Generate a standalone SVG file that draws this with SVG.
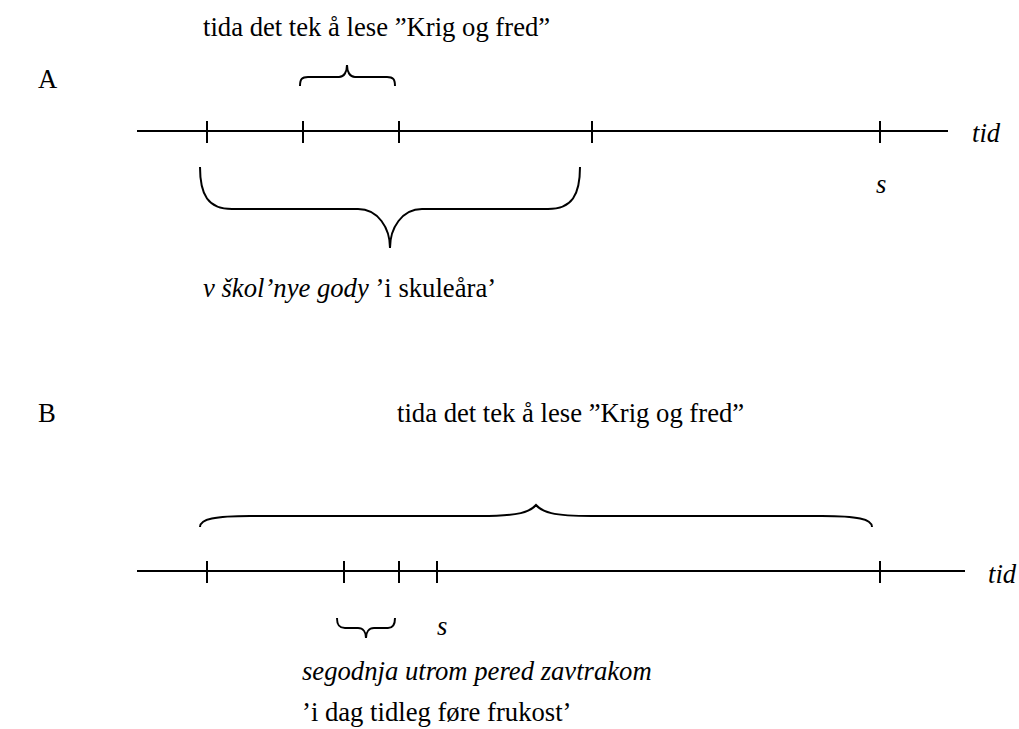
<svg xmlns="http://www.w3.org/2000/svg" width="1019" height="729" viewBox="0 0 1019 729">
<style>
.t{font-family:"Liberation Serif","Times New Roman",serif;font-size:26.67px;fill:#000}
.i{font-style:italic}
.ln{stroke:#000;stroke-width:2;fill:none}
.br{stroke:#000;stroke-width:2;fill:none}
</style>
<rect width="1019" height="729" fill="#fff"/>
<g id="panelA">
<text class="t" x="38" y="88">A</text>
<text class="t" x="203" y="36">tida det tek å lese ”Krig og fred”</text>
<g id="axisA">
<line class="ln" x1="137" y1="131" x2="948" y2="131"/>
<line class="ln" x1="207" y1="121" x2="207" y2="143"/>
<line class="ln" x1="303" y1="121" x2="303" y2="143"/>
<line class="ln" x1="399" y1="121" x2="399" y2="143"/>
<line class="ln" x1="592" y1="121" x2="592" y2="143"/>
<line class="ln" x1="880" y1="121" x2="880" y2="143"/>
</g>
<text class="t i" x="972" y="142">tid</text>
<text class="t i" x="876" y="193">s</text>
<path class="br" d="M300,86 C300,79 302,77 308,77 L339,77 C344,77 347,72 347,65 C347,72 350,77 355,77 L387,77 C393,77 395,79 395,86"/>
<path class="br" d="M200,167 C200,195 208,209 232,209 L358,209 C378,209 390,228 390,248 C390,228 402,209 422,209 L548,209 C572,209 580,195 580,167"/>
<text class="t" x="203" y="297"><tspan class="i">v škol’nye gody</tspan> ’i skuleåra’</text>
</g>
<g id="panelB">
<text class="t" x="38" y="422">B</text>
<text class="t" x="397" y="422">tida det tek å lese ”Krig og fred”</text>
<g id="axisB">
<line class="ln" x1="137" y1="571" x2="965" y2="571"/>
<line class="ln" x1="207" y1="561" x2="207" y2="583"/>
<line class="ln" x1="344" y1="561" x2="344" y2="583"/>
<line class="ln" x1="399" y1="561" x2="399" y2="583"/>
<line class="ln" x1="437" y1="561" x2="437" y2="583"/>
<line class="ln" x1="880" y1="561" x2="880" y2="583"/>
</g>
<text class="t i" x="988" y="583">tid</text>
<text class="t i" x="437" y="635">s</text>
<path class="br" d="M200,527 C200,519 215,516 250,516 L480,516 C520,516 530,512 536,505 C542,512 552,516 592,516 L822,516 C857,516 872,519 872,527"/>
<path class="br" d="M337,618 C337,625 339,628 345,628 L358,628 C363,628 366,632 366,638 C366,632 369,628 374,628 L388,628 C393,628 395,625 395,618"/>
<text class="t i" x="302" y="680">segodnja utrom pered zavtrakom</text>
<text class="t" x="302" y="721">’i dag tidleg føre frukost’</text>
</g>
</svg>
